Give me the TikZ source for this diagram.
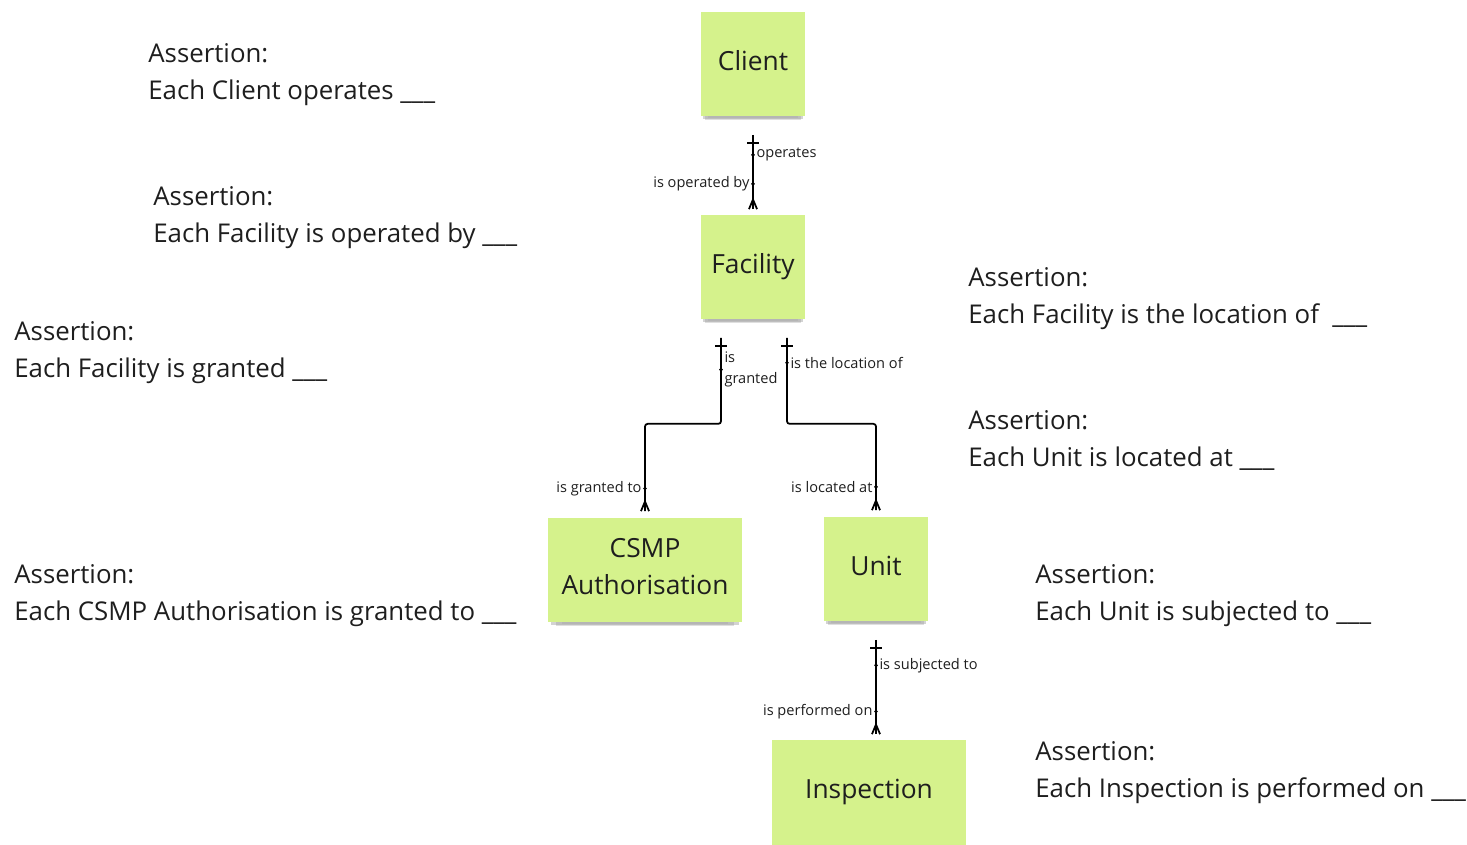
\documentclass[tikz,border=0pt]{standalone}
\usepackage{fontspec}
\setmainfont{Open Sans}
\usetikzlibrary{calc}
\usetikzlibrary{shadows}
\usetikzlibrary{decorations.markings}
\definecolor{sticky}{RGB}{213, 242, 140}
\definecolor{ink}{RGB}{30, 30, 30}
\tikzset{
	note/.style={fill=sticky, minimum width=2.08cm, minimum height=2.1cm, align=center, text=ink,
		text depth=4pt, font=\fontsize{15}{21}\selectfont,
		drop shadow={shadow xshift=0pt, shadow yshift=-6pt, opacity=0.15, shadow scale=0.86},
		drop shadow={shadow xshift=0pt, shadow yshift=-4.5pt, opacity=0.25, shadow scale=0.92},
		drop shadow={shadow xshift=0pt, shadow yshift=-2.5pt, opacity=0.35, shadow scale=0.97}},
	rel/.style={line width=1pt, rounded corners=1.5pt, postaction={decorate, decoration={markings,
		mark=at position 4.5pt with {\draw[line width=1pt] (0,-3.4pt) -- (0,3.4pt);}, % one
		mark=at position 1 with {\draw[line width=1pt] (-5.5pt,0) -- (0,2.3pt) (-5.5pt,0) -- (0,-2.3pt);}}}}, % many
	dot/.style={circle, fill=black, inner sep=0pt, minimum size=2.2pt},
	lab/.style={font=\fontsize{8.3}{12}\selectfont, inner sep=1.5pt, text=ink},
	assert/.style={anchor=west, align=left, inner sep=0pt, text=ink, font=\fontsize{14.7}{21}\selectfont}
}
\newcommand{\assertion}[3]{% {name}{position}{text}
	\node[assert] (#1) at (#2) {Assertion:\\#3}
}

\begin{document}
\begin{tikzpicture}[x=0.02cm, y=-0.02cm]
	\useasboundingbox (0,0) rectangle (1467,845);

	\node[note] (client) at (753,64) {Client};
	\node[note] (facility) at (753,267) {Facility};
	\node[note, minimum width=3.88cm] (csmp) at (645,570) {CSMP\\Authorisation};
	\node[note] (unit) at (876,569) {Unit};
	\node[note, minimum width=3.88cm] (inspection) at (869,792) {Inspection};

	\draw[rel] ($(client.south)+(0,18)$) -- ($(facility.north)+(0,-5)$)
		node[dot, pos=.27] {} node[lab, right, pos=.27] {operates}
		node[dot, pos=.66] {} node[lab, left, pos=.66] {is operated by};
	\draw[rel] ($(facility.south)+(-32,18)$)
		-- node[dot, pos=.37] {} node[lab, right, align=left, pos=.37] {is\\granted} ++(0,86)
		-| node[dot, pos=.87] {} node[lab, left, pos=.87] {is granted to} ($(csmp.north)+(0,-6)$);
	\draw[rel] ($(facility.south)+(34,18)$)
		-- node[dot, pos=.29] {} node[lab, right, pos=.29] {is the location of} ++(0,86)
		-| node[dot, pos=.865] {} node[lab, left, pos=.865] {is located at} ($(unit.north)+(0,-6)$);
	\draw[rel] ($(unit.south)+(0,18)$) -- ($(unit.south |- inspection.north)+(0,-5)$)
		node[dot, pos=.27] {} node[lab, right, pos=.27] {is subjected to}
		node[dot, pos=.76] {} node[lab, left, pos=.76] {is performed on};

	% assertions
	\assertion{aclient}{148,74.5}{Each Client operates \_\_\_};
	\assertion{aoperated}{153,217.5}{Each Facility is operated by \_\_\_};
	\assertion{agranted}{14,352.5}{Each Facility is granted \_\_\_};
	\assertion{alocation}{968,298.5}{Each Facility is the location of\ \ \_\_\_};
	\assertion{alocated}{968,440.5}{Each Unit is located at \_\_\_};
	\assertion{agrantedto}{14,595.5}{Each CSMP Authorisation is granted to \_\_\_};
	\assertion{asubjected}{1035,595.5}{Each Unit is subjected to \_\_\_};
	\assertion{aperformed}{1035,772.5}{Each Inspection is performed on \_\_\_};
\end{tikzpicture}
\end{document}
